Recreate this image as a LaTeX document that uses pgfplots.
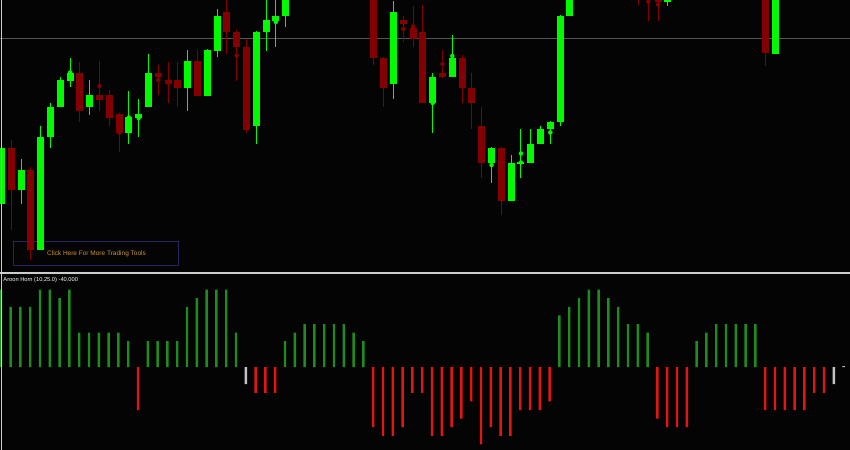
\documentclass[border=0pt]{standalone}
\usepackage{fontspec}
\setmainfont{Liberation Sans}
\usepackage{pgfplots}
\pgfplotsset{compat=1.18}
\usepackage{pgfplotstable}

\definecolor{bg}{RGB}{4,4,4}
\definecolor{bullc}{RGB}{0,250,0}
\definecolor{bearc}{RGB}{132,0,0}
\definecolor{hline}{RGB}{85,85,85}
\definecolor{sepc}{RGB}{205,205,205}
\definecolor{btnborder}{RGB}{38,38,92}
\definecolor{btntext}{RGB}{200,150,40}
\definecolor{ig}{RGB}{30,140,30}
\definecolor{ir}{RGB}{228,20,20}
\definecolor{igr}{RGB}{195,195,195}

% candles: i = bar index, o/h/l/c = open/high/low/close
\pgfplotstableread{
i o h l c
0 68 125 67 124
2 82 113 68 102
4 22 146 22 135
5 135 169 124 165
6 165 195 165 192
7 191 214 185 199
9 165 192 157 177
13 139 181 128 155
14 154 173 135 158
15 165 218 165 199
19 184 222 161 211
21 176 223 176 222
22 221 263 215 256
26 146 241 128 240
27 240 274 221 252
28 251 275 225 256
29 256 285 245 280
30 280 300 276 295
31 295 312 290 305
33 298 320 292 315
36 290 306 286 302
40 188 271 173 260
44 169 199 139 195
46 195 237 195 214
50 109 125 89 124
52 71 117 71 109
53 109 143 94 110
54 109 143 109 128
55 128 146 128 143
56 143 151 128 150
57 150 257 146 256
58 256 295 256 290
59 290 310 285 305
60 305 322 300 318
62 310 328 306 322
68 270 286 266 280
70 278 295 276 290
71 290 305 285 300
72 300 314 295 310
73 310 322 305 318
75 312 325 308 320
79 218 290 218 285
80 285 300 278 295
83 282 298 278 292
86 280 290 277 284
}\bull

\pgfplotstableread{
i o h l c
1 124 132 42 82
3 102 105 12 22
8 199 210 150 161
10 177 211 161 172
11 177 182 146 154
12 158 159 120 139
16 199 207 177 195
17 192 210 169 188
18 192 210 165 184
20 211 222 176 176
23 260 276 218 240
24 240 242 191 225
25 225 233 139 142
32 305 310 290 298
34 315 318 293 300
35 300 305 285 290
37 302 310 286 300
38 290 295 207 214
39 214 215 165 184
41 252 256 230 248
42 244 266 225 233
43 240 267 169 169
45 199 222 194 195
47 214 217 169 184
48 184 199 143 169
49 146 165 94 109
51 124 125 57 71
61 318 325 305 310
63 322 326 300 312
64 312 315 290 300
65 300 305 267 285
66 285 290 251 276
67 280 284 251 270
69 282 290 275 278
74 318 322 310 312
76 320 324 312 315
77 315 318 290 300
78 300 305 206 219
81 295 298 285 288
82 288 292 276 282
84 292 296 284 286
85 286 290 276 280
}\bear

% Aroon Horn histogram
\pgfplotstableread{
i v
0 90
1 70
2 70
3 70
4 90
5 90
6 80
7 90
8 40
9 40
10 40
11 40
12 40
13 30
15 30
16 30
17 30
18 30
19 70
20 80
21 90
22 90
23 90
24 40
29 30
30 40
31 50
32 50
33 50
34 50
35 50
36 40
37 30
57 60
58 70
59 80
60 90
61 90
62 80
63 70
64 50
65 50
66 40
71 30
72 40
73 50
74 50
75 50
76 50
77 50
}\indgreen

\pgfplotstableread{
i v
14 -50
26 -30
27 -30
28 -30
38 -70
39 -80
40 -80
41 -70
42 -30
43 -30
44 -80
45 -80
46 -70
47 -60
48 -40
49 -90
50 -70
51 -80
52 -80
53 -50
54 -50
55 -50
56 -40
67 -60
68 -70
69 -70
70 -70
78 -50
79 -50
80 -50
81 -50
82 -50
83 -30
84 -30
}\indred

\pgfplotstableread{
i v
25 -20
85 -20
86 1
}\indgrey

\begin{document}
\begin{tikzpicture}
\useasboundingbox (0,0) rectangle (850bp,-450bp);
\fill[bg] (0,0) rectangle (850bp,-450bp);
% button (behind the candles)
\draw[btnborder, line width=1bp] (13.5bp,-241.5bp) rectangle (178bp,-265bp);
\node[anchor=base, text=btntext, inner sep=0pt, font=\fontsize{6.5bp}{7bp}\selectfont] at (96.5bp,-255.8bp) {Click Here For More Trading Tools};

\begin{axis}[at={(0,0)}, anchor=north west, width=850bp, height=272bp, scale only axis,
  xmin=-0.153, xmax=86.58, ymin=0, ymax=272, axis lines=none, clip=true]
\addplot[draw=hline, line width=1.3bp, mark=none] coordinates {(-2,233.3) (90,233.3)};
% wicks
\addplot[bullc, only marks, mark=none, error bars/.cd, y dir=both, y explicit, error mark=none,
  error bar style={line width=1bp, draw=bullc}]
  table[x=i, y expr={(\thisrow{h}+\thisrow{l})/2}, y error expr={(\thisrow{h}-\thisrow{l})/2}]{\bull};
\addplot[bearc, only marks, mark=none, error bars/.cd, y dir=both, y explicit, error mark=none,
  error bar style={line width=1bp, draw=bearc}]
  table[x=i, y expr={(\thisrow{h}+\thisrow{l})/2}, y error expr={(\thisrow{h}-\thisrow{l})/2}]{\bear};
% bodies
\addplot[bullc, only marks, mark=none, error bars/.cd, y dir=both, y explicit, error mark=none,
  error bar style={line width=7bp, draw=bullc}]
  table[x=i, y expr={(\thisrow{o}+\thisrow{c})/2}, y error expr={abs(\thisrow{c}-\thisrow{o})/2}]{\bull};
\addplot[bearc, only marks, mark=none, error bars/.cd, y dir=both, y explicit, error mark=none,
  error bar style={line width=7bp, draw=bearc}]
  table[x=i, y expr={(\thisrow{o}+\thisrow{c})/2}, y error expr={abs(\thisrow{c}-\thisrow{o})/2}]{\bear};
\end{axis}

\begin{axis}[at={(0,-273bp)}, anchor=north west, width=850bp, height=177bp, scale only axis,
  xmin=-0.082, xmax=86.65, ymin=-96.5, ymax=109.3, axis lines=none, clip=true]
\addplot[ybar, bar width=2.4bp, bar shift=0pt, fill=ig, draw=none] table[x=i, y=v]{\indgreen};
\addplot[ybar, bar width=2.4bp, bar shift=0pt, fill=ir, draw=none] table[x=i, y=v]{\indred};
\addplot[ybar, bar width=2.4bp, bar shift=0pt, fill=igr, draw=none] table[x=i, y=v]{\indgrey};
\end{axis}

% panel separator and frame
\draw[sepc, line width=1.4bp] (0,-272.8bp) -- (850bp,-272.8bp);
\draw[sepc, line width=1bp] (1.5bp,0) -- (1.5bp,-450bp);
\node[anchor=base west, text=white, inner sep=0pt, font=\fontsize{5.7bp}{6.5bp}\selectfont] at (3.3bp,-281.3bp) {Aroon Horn (10,25.0) -40.000};
\end{tikzpicture}
\end{document}
